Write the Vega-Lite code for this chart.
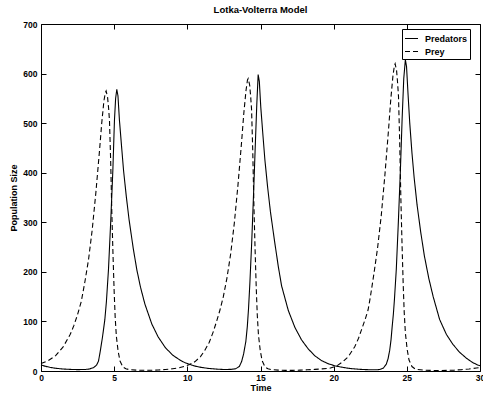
{
"$schema": "https://vega.github.io/schema/vega-lite/v6.json",
"width": 439, "height": 347,
"autosize": {"type": "none"},
"padding": {"left": 41, "top": 24, "right": 3, "bottom": 30},
"background": "white",
"title": {"text": "Lotka-Volterra Model", "fontSize": 9.5, "font": "Liberation Sans", "fontWeight": "bold", "offset": 6, "color": "black"},
"datasets": {
"prey": [{"t":0,"v":15},{"t":0.5,"v":21},{"t":1,"v":31},{"t":1.5,"v":48},{"t":2,"v":74},{"t":2.25,"v":92},{"t":2.5,"v":114},{"t":2.75,"v":140},{"t":3,"v":180},{"t":3.25,"v":225},{"t":3.5,"v":285},{"t":3.75,"v":360},{"t":4,"v":445},{"t":4.15,"v":500},{"t":4.3,"v":545},{"t":4.4,"v":562},{"t":4.45,"v":565},{"t":4.55,"v":552},{"t":4.62,"v":530},{"t":4.68,"v":505},{"t":4.76,"v":425},{"t":4.84,"v":320},{"t":4.92,"v":235},{"t":5,"v":160},{"t":5.07,"v":108},{"t":5.15,"v":70},{"t":5.27,"v":40},{"t":5.4,"v":20},{"t":5.6,"v":8},{"t":5.8,"v":4.5},{"t":6,"v":3},{"t":6.5,"v":1.8},{"t":7,"v":1.4},{"t":7.5,"v":1.5},{"t":8,"v":2},{"t":8.5,"v":3},{"t":9,"v":4.5},{"t":9.5,"v":7},{"t":9.84,"v":9.5},{"t":10.16,"v":13},{"t":10.53,"v":19},{"t":10.9,"v":29},{"t":11.2,"v":42},{"t":11.5,"v":58},{"t":11.77,"v":79},{"t":12,"v":100},{"t":12.23,"v":123},{"t":12.46,"v":150},{"t":12.71,"v":188},{"t":12.96,"v":236},{"t":13.21,"v":298},{"t":13.46,"v":375},{"t":13.71,"v":463},{"t":13.86,"v":520},{"t":14.01,"v":566},{"t":14.11,"v":587},{"t":14.16,"v":590},{"t":14.26,"v":577},{"t":14.33,"v":553},{"t":14.39,"v":527},{"t":14.47,"v":444},{"t":14.55,"v":334},{"t":14.63,"v":245},{"t":14.71,"v":167},{"t":14.78,"v":113},{"t":14.86,"v":73},{"t":14.98,"v":42},{"t":15.11,"v":21},{"t":15.31,"v":8},{"t":15.51,"v":4.5},{"t":15.71,"v":3},{"t":16.21,"v":1.7},{"t":16.71,"v":1.3},{"t":17.21,"v":1.3},{"t":17.71,"v":1.7},{"t":18.21,"v":2.4},{"t":18.71,"v":3.3},{"t":19.2,"v":4.3},{"t":19.73,"v":5.5},{"t":20.2,"v":10},{"t":20.64,"v":19},{"t":21,"v":29},{"t":21.44,"v":49},{"t":21.7,"v":66},{"t":21.9,"v":83},{"t":22.15,"v":104},{"t":22.35,"v":123},{"t":22.5,"v":148},{"t":22.75,"v":196},{"t":23,"v":248},{"t":23.25,"v":313},{"t":23.5,"v":395},{"t":23.75,"v":487},{"t":23.9,"v":547},{"t":24.05,"v":595},{"t":24.15,"v":616},{"t":24.2,"v":620},{"t":24.3,"v":606},{"t":24.37,"v":581},{"t":24.43,"v":554},{"t":24.51,"v":466},{"t":24.59,"v":351},{"t":24.67,"v":258},{"t":24.75,"v":176},{"t":24.82,"v":119},{"t":24.9,"v":77},{"t":25.02,"v":44},{"t":25.15,"v":22},{"t":25.35,"v":9},{"t":25.55,"v":4.5},{"t":25.75,"v":3},{"t":26.25,"v":1.6},{"t":26.75,"v":1.1},{"t":27.25,"v":1},{"t":27.75,"v":1.3},{"t":28.25,"v":1.8},{"t":28.75,"v":2.7},{"t":29.25,"v":4},{"t":29.75,"v":6},{"t":30,"v":7}],
"pred": [{"t":0,"v":12},{"t":0.3,"v":9.5},{"t":0.6,"v":7.5},{"t":1,"v":5.5},{"t":1.5,"v":4},{"t":2,"v":3.2},{"t":2.5,"v":2.8},{"t":3,"v":3},{"t":3.3,"v":4},{"t":3.6,"v":7},{"t":3.8,"v":12},{"t":3.93,"v":20},{"t":4.05,"v":40},{"t":4.2,"v":68},{"t":4.36,"v":103},{"t":4.47,"v":140},{"t":4.61,"v":204},{"t":4.77,"v":305},{"t":4.91,"v":405},{"t":5.02,"v":506},{"t":5.1,"v":550},{"t":5.18,"v":568},{"t":5.26,"v":555},{"t":5.36,"v":506},{"t":5.5,"v":455},{"t":5.64,"v":405},{"t":5.83,"v":352},{"t":6.02,"v":305},{"t":6.3,"v":248},{"t":6.55,"v":204},{"t":6.8,"v":169},{"t":7.1,"v":135},{"t":7.57,"v":95},{"t":8,"v":69},{"t":8.5,"v":47},{"t":9,"v":32},{"t":9.5,"v":22},{"t":9.82,"v":17},{"t":10,"v":15},{"t":10.5,"v":10},{"t":11,"v":7},{"t":11.5,"v":5},{"t":12,"v":3.8},{"t":12.5,"v":3},{"t":13,"v":3.3},{"t":13.3,"v":4.5},{"t":13.55,"v":9},{"t":13.71,"v":19},{"t":13.85,"v":35},{"t":14,"v":60},{"t":14.1,"v":90},{"t":14.18,"v":125},{"t":14.27,"v":175},{"t":14.4,"v":260},{"t":14.53,"v":360},{"t":14.65,"v":460},{"t":14.75,"v":540},{"t":14.84,"v":598},{"t":14.92,"v":584},{"t":15.02,"v":532},{"t":15.16,"v":478},{"t":15.3,"v":426},{"t":15.49,"v":370},{"t":15.68,"v":321},{"t":15.96,"v":262},{"t":16.21,"v":212},{"t":16.44,"v":172},{"t":16.9,"v":122},{"t":17.35,"v":88},{"t":17.8,"v":63},{"t":18.25,"v":45},{"t":18.7,"v":31},{"t":19.17,"v":21},{"t":19.6,"v":15},{"t":20.08,"v":10.5},{"t":20.5,"v":8},{"t":21,"v":5.5},{"t":21.5,"v":4},{"t":22,"v":3},{"t":22.5,"v":2.5},{"t":23,"v":2.6},{"t":23.15,"v":3},{"t":23.4,"v":6},{"t":23.6,"v":14},{"t":23.72,"v":25},{"t":23.83,"v":42},{"t":23.92,"v":63},{"t":24,"v":90},{"t":24.08,"v":115},{"t":24.15,"v":143},{"t":24.28,"v":205},{"t":24.42,"v":300},{"t":24.56,"v":405},{"t":24.68,"v":510},{"t":24.79,"v":590},{"t":24.9,"v":628},{"t":24.98,"v":614},{"t":25.08,"v":560},{"t":25.2,"v":500},{"t":25.35,"v":440},{"t":25.5,"v":390},{"t":25.7,"v":335},{"t":25.95,"v":280},{"t":26.2,"v":232},{"t":26.5,"v":187},{"t":26.8,"v":150},{"t":27.24,"v":104},{"t":27.7,"v":74},{"t":28.14,"v":54},{"t":28.6,"v":38},{"t":29.06,"v":26},{"t":29.5,"v":17},{"t":29.85,"v":12},{"t":30,"v":10.5}]
},
"layer": [
{
"data": {"name": "prey"},
"mark": {"type": "line", "color": "black", "strokeWidth": 1.1},
"encoding": {
"x": {"field": "t", "type": "quantitative", "scale": {"domain": [0, 30], "nice": false, "zero": false},
"axis": {"orient": "bottom", "title": "Time", "values": [0, 5, 10, 15, 20, 25, 30], "labelFlush": false, "labelPadding": 7, "titlePadding": 2}},
"y": {"field": "v", "type": "quantitative", "scale": {"domain": [0, 700], "nice": false},
"axis": {"orient": "left", "title": "Population Size", "values": [0, 100, 200, 300, 400, 500, 600, 700], "labelPadding": 9, "titlePadding": 4}},
"strokeDash": {"datum": "Prey", "type": "nominal",
"scale": {"domain": ["Predators", "Prey"], "range": [[1, 0], [5, 3]]},
"legend": {"orient": "none", "legendX": 361, "legendY": 5, "title": null, "strokeColor": "black", "fillColor": "white", "padding": 2, "cornerRadius": 0, "symbolType": "stroke", "symbolSize": 169, "symbolStrokeWidth": 1.1, "symbolStrokeColor": "black", "labelFont": "Liberation Sans", "labelFontSize": 9, "labelFontWeight": "bold", "labelColor": "black", "labelOffset": 6, "rowPadding": -5, "labelLimit": 80}}
}
},
{
"data": {"name": "pred"},
"mark": {"type": "line", "color": "black", "strokeWidth": 1.1},
"encoding": {
"x": {"field": "t", "type": "quantitative",
"axis": {"orient": "top", "title": null, "labels": false, "values": [0, 5, 10, 15, 20, 25, 30]}},
"y": {"field": "v", "type": "quantitative",
"axis": {"orient": "right", "title": null, "labels": false, "values": [0, 100, 200, 300, 400, 500, 600, 700]}},
"strokeDash": {"datum": "Predators", "type": "nominal"}
}
}
],
"resolve": {"axis": {"x": "independent", "y": "independent"}},
"config": {
"view": {"stroke": null},
"axis": {"domainColor": "black", "tickColor": "black", "tickSize": -5, "grid": false, "domainWidth": 1, "tickWidth": 1,
"labelFont": "Liberation Sans", "labelFontSize": 8.5, "labelFontWeight": "bold", "labelColor": "black",
"titleFont": "Liberation Sans", "titleFontSize": 9, "titleFontWeight": "bold", "titleColor": "black"}
}
}
